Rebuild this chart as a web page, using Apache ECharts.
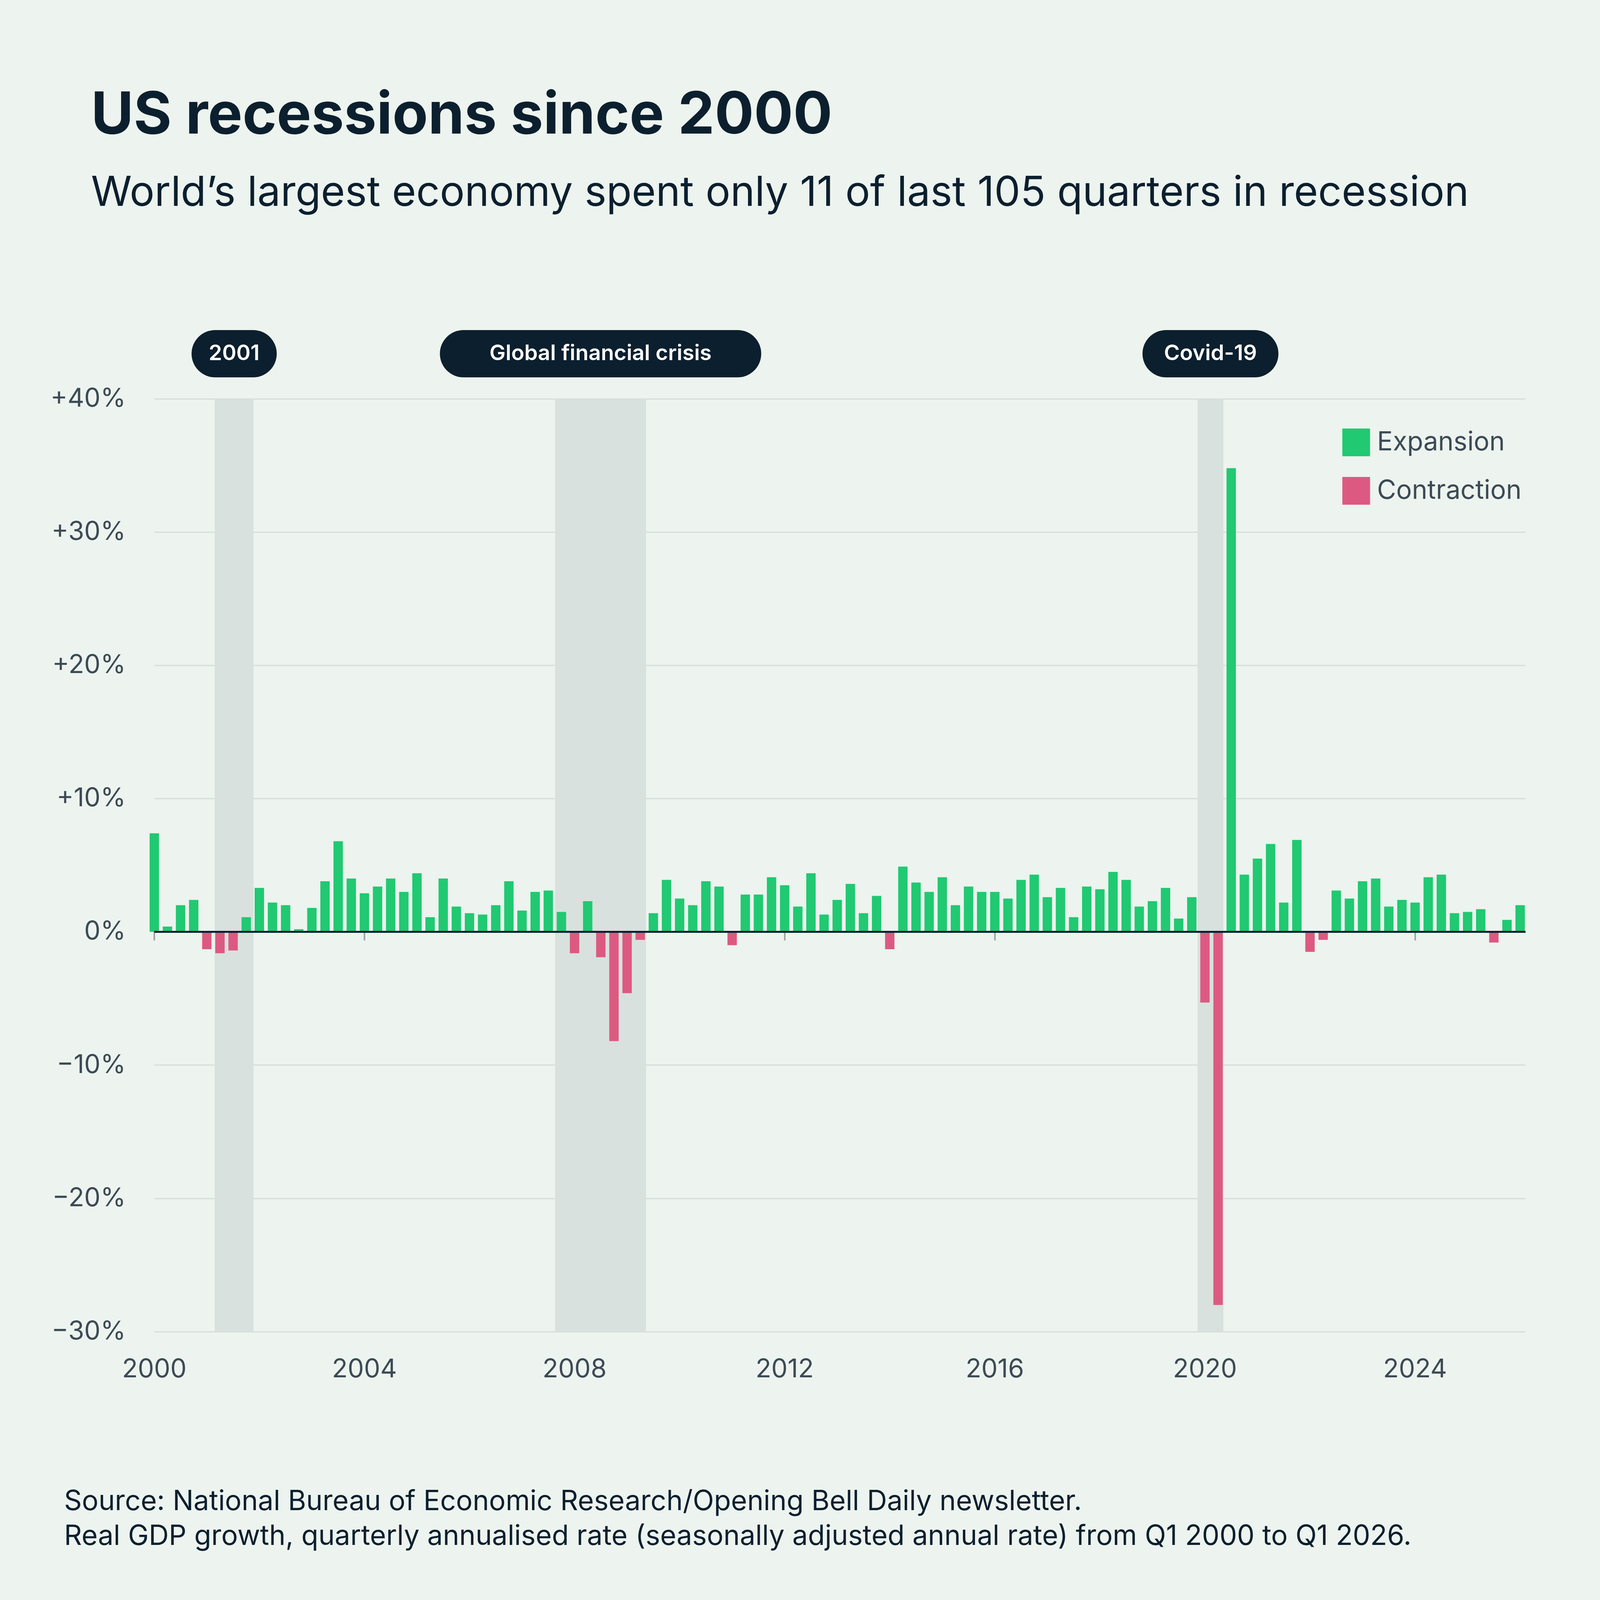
<!DOCTYPE html>
<html lang="en">
<head>
<meta charset="UTF-8">
<title>US recessions since 2000</title>
<style>html,body{margin:0;padding:0;background:#edf3ee;overflow:hidden;}</style>
</head>
<body>
<div id="main" style="width:100vw;height:100vh;"></div>
<script src="https://cdn.jsdelivr.net/npm/echarts@6/dist/echarts.min.js"></script>
<script>
var startYear = 2000;
// quarterly real GDP growth, annualised, Q1 2000 .. Q1 2026
var growth = [
  7.4, 0.4, 2.0, 2.4,
  -1.3, -1.6, -1.4, 1.1,
  3.3, 2.2, 2.0, 0.2,
  1.8, 3.8, 6.8, 4.0,
  2.9, 3.4, 4.0, 3.0,
  4.4, 1.1, 4.0, 1.9,
  1.4, 1.3, 2.0, 3.8,
  1.6, 3.0, 3.1, 1.5,
  -1.6, 2.3, -1.9, -8.2,
  -4.6, -0.6, 1.4, 3.9,
  2.5, 2.0, 3.8, 3.4,
  -1.0, 2.8, 2.8, 4.1,
  3.5, 1.9, 4.4, 1.3,
  2.4, 3.6, 1.4, 2.7,
  -1.3, 4.9, 3.7, 3.0,
  4.1, 2.0, 3.4, 3.0,
  3.0, 2.5, 3.9, 4.3,
  2.6, 3.3, 1.1, 3.4,
  3.2, 4.5, 3.9, 1.9,
  2.3, 3.3, 1.0, 2.6,
  -5.3, -28.0, 34.8, 4.3,
  5.5, 6.6, 2.2, 6.9,
  -1.5, -0.6, 3.1, 2.5,
  3.8, 4.0, 1.9, 2.4,
  2.2, 4.1, 4.3, 1.4,
  1.5, 1.7, -0.8, 0.9,
  2.0
];
var recessionNames = ['2001', 'Global financial crisis', 'Covid-19'];
var recessionStart = [2001.15, 2007.63, 2019.86];
var recessionEnd = [2001.89, 2009.36, 2020.35];
var pillPadX = [48, 140, 60];

var expansion = [], contraction = [];
growth.forEach(function (v, i) {
  var x = startYear + i / 4;
  expansion.push([x, v >= 0 ? v : null]);
  contraction.push([x, v < 0 ? v : null]);
});

var dom = document.getElementById('main');
var chart = echarts.init(dom);
var s = chart.getWidth() / 4501;
function p(v) { return Math.round(v * s); }

var font = 'Inter';
var dark = '#0b1f2e';
var grey = '#3c4a55';

var areas = recessionNames.map(function (n, i) {
  return [{
    name: n, xAxis: recessionStart[i],
    label: {
      show: true, position: 'top', distance: p(60),
      color: '#ffffff', fontFamily: font, fontWeight: 600, fontSize: p(60),
      backgroundColor: dark, borderRadius: p(70),
      padding: [p(36), p(pillPadX[i]), p(36), p(pillPadX[i])]
    }
  }, { xAxis: recessionEnd[i] }];
});

chart.setOption({
  backgroundColor: '#edf3ee',
  animation: false,
  title: [{
    text: 'US recessions since 2000',
    left: p(250), top: p(240),
    textStyle: { fontFamily: font, fontWeight: 700, fontSize: p(164), color: dark }
  }, {
    text: 'World\u2019s largest economy spent only 11 of last 105 quarters in recession',
    left: p(250), top: p(480),
    textStyle: { fontFamily: font, fontWeight: 400, fontSize: p(117), color: dark }
  }, {
    text: 'Source: National Bureau of Economic Research/Opening Bell Daily newsletter.\nReal GDP growth, quarterly annualised rate (seasonally adjusted annual rate) from Q1 2000 to Q1 2026.',
    left: p(175), top: p(4170),
    textStyle: { fontFamily: font, fontWeight: 400, fontSize: p(78), lineHeight: p(98), color: dark }
  }],
  legend: {
    right: p(215), top: p(1200), orient: 'vertical',
    itemWidth: p(78), itemHeight: p(78), itemGap: p(58),
    icon: 'rect',
    textStyle: { fontFamily: font, fontSize: p(74), color: grey, padding: [0, 0, 0, p(14)] },
    data: ['Expansion', 'Contraction']
  },
  grid: { left: p(434), right: p(210), top: p(1122), bottom: p(755) },
  xAxis: {
    type: 'value', min: 2000, max: 2026.1, interval: 4,
    axisLine: { lineStyle: { color: '#9aa5a8', width: p(4) } },
    axisTick: { show: true, length: p(24), lineStyle: { color: '#9aa5a8', width: p(4) } },
    axisLabel: {
      fontFamily: font, fontSize: p(72), color: grey, margin: p(70), showMaxLabel: false,
      formatter: function (v) { return String(v); }
    },
    splitLine: { show: false }
  },
  yAxis: {
    type: 'value', min: -30, max: 40, interval: 10,
    axisLine: { show: false }, axisTick: { show: false },
    axisLabel: {
      fontFamily: font, fontSize: p(72), color: grey, margin: p(80),
      formatter: function (v) { return v > 0 ? '+' + v + '%' : (v < 0 ? '\u2212' + (-v) + '%' : '0%'); }
    },
    splitLine: { lineStyle: { color: '#d6dedb', width: p(3) } }
  },
  series: [{
    name: 'Expansion', type: 'bar', data: expansion,
    barWidth: p(26), barGap: '-100%',
    itemStyle: { color: '#20c972' },
    markArea: { silent: true, itemStyle: { color: '#d8e1dd' }, data: areas },
    z: 3
  }, {
    name: 'Contraction', type: 'bar', data: contraction,
    barWidth: p(26), barGap: '-100%',
    itemStyle: { color: '#dc5a82' },
    markLine: {
      silent: true, symbol: 'none', label: { show: false },
      lineStyle: { color: '#0b1f2e', width: p(5), type: 'solid' },
      data: [{ yAxis: 0 }]
    },
    z: 3
  }]
});
</script>
</body>
</html>
